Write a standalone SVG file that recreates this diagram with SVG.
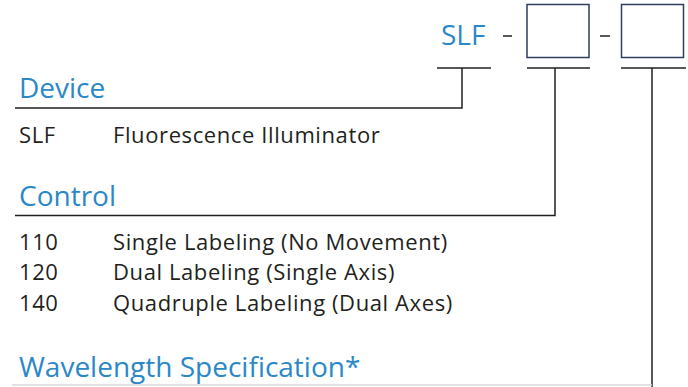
<svg xmlns="http://www.w3.org/2000/svg" width="688" height="387" viewBox="0 0 688 387">
<style>
.h{font-family:"Open Sans",sans-serif;font-size:28px;fill:#2b88c8}
.t{font-family:"Open Sans",sans-serif;font-size:22px;letter-spacing:0.6px;fill:#231f20}
.ln{stroke:#231f20;stroke-width:1.5;fill:none}
.box{stroke:#2d3e5e;stroke-width:1.5;fill:#fff}
</style>
<rect width="688" height="387" fill="#fff"/>
<g id="code">
<text class="h" x="441" y="45" font-size="25">SLF</text>
<line class="ln" x1="503" y1="36" x2="512" y2="36"/>
<rect id="box1" class="box" x="527" y="4.5" width="62" height="53"/>
<line class="ln" x1="600" y1="36" x2="610" y2="36"/>
<rect id="box2" class="box" x="621.5" y="4.5" width="62" height="53"/>
</g>
<g id="connectors">
<polyline class="ln" points="437,68 491,68"/>
<polyline class="ln" points="462,68 462,108 15,108"/>
<polyline class="ln" points="527,68 590,68"/>
<polyline class="ln" points="555,68 555,215.5 15,215.5"/>
<polyline class="ln" points="621,68 686,68"/>
<polyline class="ln" points="652,68 652,387"/>
<line x1="12" y1="385" x2="652" y2="385" stroke="#d8d8d8" stroke-width="1.5"/>
</g>
<g id="device">
<text class="h" x="19" y="98">Device</text>
<text class="t" x="19" y="143">SLF</text>
<text class="t" x="113" y="143">Fluorescence Illuminator</text>
</g>
<g id="control">
<text class="h" x="19" y="206">Control</text>
<text class="t" x="19" y="250">110</text>
<text class="t" x="113" y="250">Single Labeling (No Movement)</text>
<text class="t" x="19" y="280">120</text>
<text class="t" x="113" y="280">Dual Labeling (Single Axis)</text>
<text class="t" x="19" y="311">140</text>
<text class="t" x="113" y="311">Quadruple Labeling (Dual Axes)</text>
</g>
<g id="wavelength">
<text class="h" x="19" y="377">Wavelength Specification*</text>
</g>
</svg>
